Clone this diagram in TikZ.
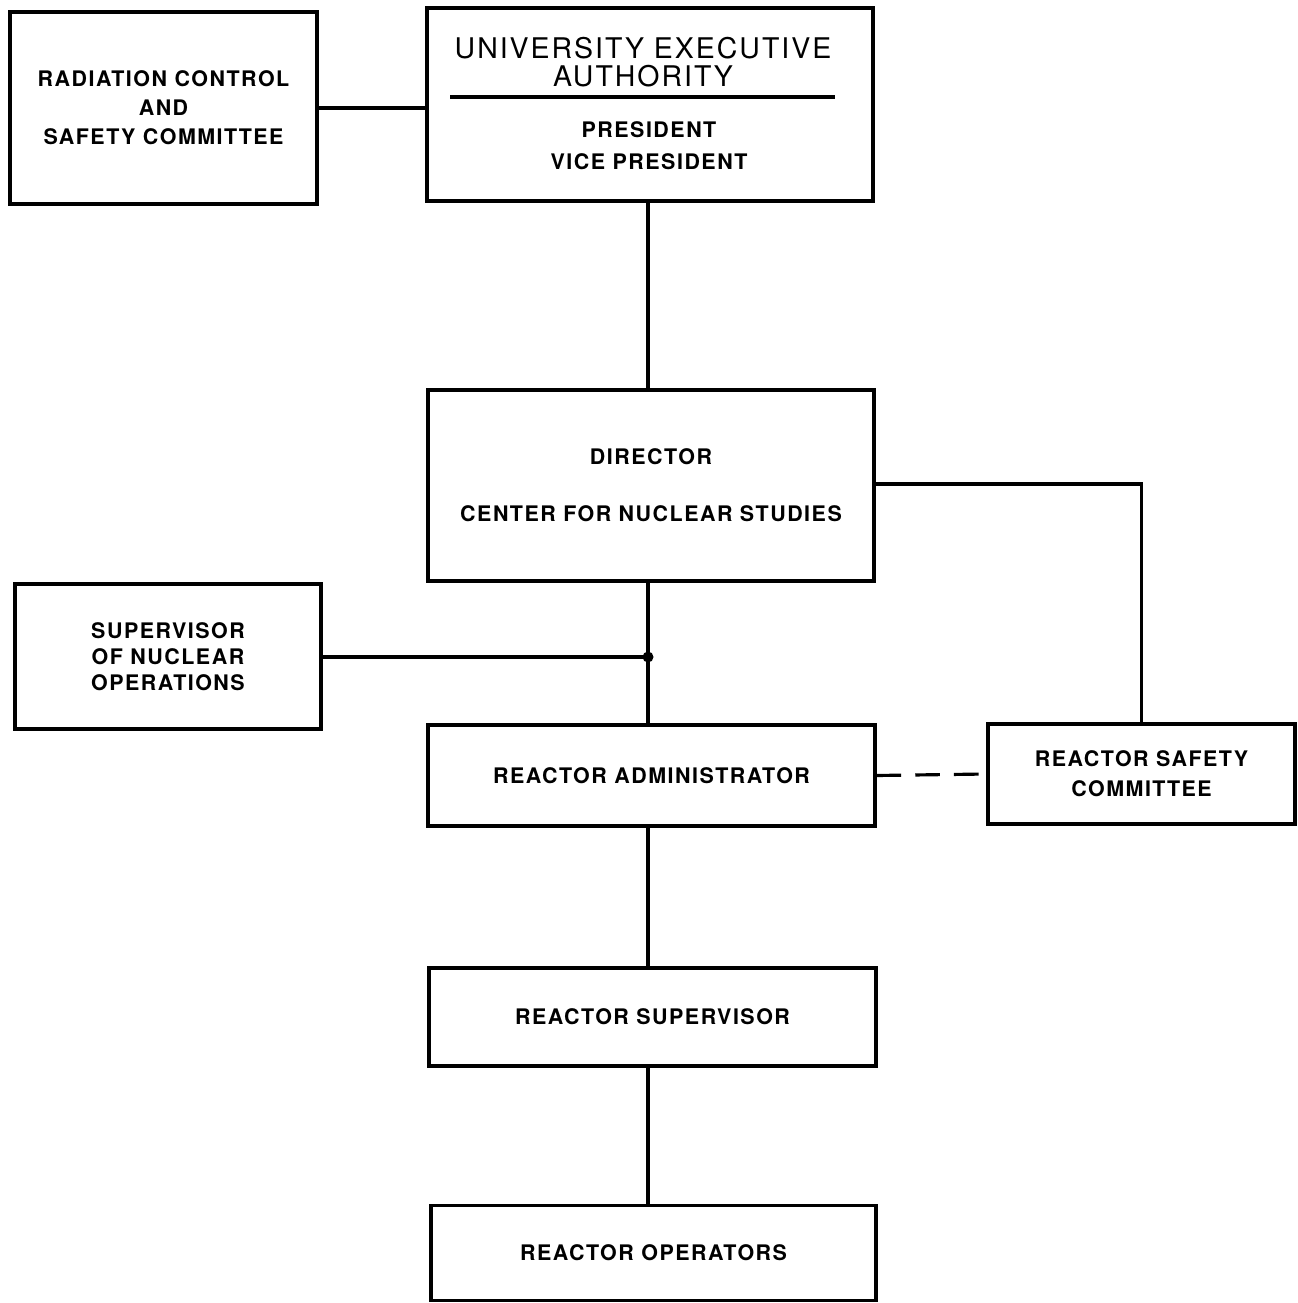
\documentclass[tikz,border=0pt]{standalone}
\usepackage{fontspec}
\setmainfont{TeX Gyre Heros}[LetterSpace=7]
\usepackage{tikz}
\usetikzlibrary{positioning}

\begin{document}
\begin{tikzpicture}
\useasboundingbox (0,0) rectangle (12.97,-13.03);
\begin{scope}[every node/.style={draw, line width=0.9pt, inner sep=0pt, align=center, font=\bfseries\fontsize{6.1}{8.3}\selectfont}]
\node[minimum width=3.07cm, minimum height=1.92cm] (RCSC) at (1.635,-1.08) {RADIATION CONTROL\\AND\\SAFETY COMMITTEE};
\node[minimum width=4.46cm, minimum height=1.93cm] (UEA) at (6.50,-1.045) {};
\node[minimum width=4.46cm, minimum height=1.91cm] (DIR) at (6.51,-4.855) {DIRECTOR\\[8pt]CENTER FOR NUCLEAR STUDIES};
\node[minimum width=3.06cm, minimum height=1.45cm] (SNO) at (1.68,-6.565) {SUPERVISOR\\[-0.9pt]OF NUCLEAR\\[-0.9pt]OPERATIONS};
\node[minimum width=4.47cm, minimum height=1.01cm] (RADM) at (6.515,-7.755) {REACTOR ADMINISTRATOR};
\node[minimum width=3.07cm, minimum height=1.00cm] (RSC) at (11.415,-7.74) {REACTOR SAFETY\\[0.2pt]COMMITTEE};
\node[minimum width=4.47cm, minimum height=0.98cm] (RSUP) at (6.525,-10.17) {REACTOR SUPERVISOR};
\node[minimum width=4.45cm, minimum height=0.95cm] (ROPS) at (6.535,-12.53) {REACTOR OPERATORS};
\end{scope}
\begin{scope}[every node/.style={inner sep=0pt, align=center}]
\node[font=\fontsize{8.1}{8}\selectfont] (UEA-title) at (6.43,-0.62) {UNIVERSITY EXECUTIVE\\AUTHORITY};
\node[font=\bfseries\fontsize{6.1}{8.3}\selectfont] (UEA-off) at (6.49,-1.46) {PRESIDENT\\[0.8pt]VICE PRESIDENT};
\end{scope}
\coordinate (rule-l) at (4.50,-0.97);
\coordinate (rule-r) at (8.35,-0.97);
\coordinate (J) at (6.48,-6.57);
\draw[line width=0.9pt] (rule-l) -- (rule-r);
\begin{scope}[line width=0.9pt, every edge/.style={draw=black, line width=0.9pt}]
\path [-] (RCSC.east) edge (RCSC.east -| UEA.west);
\path [-] (UEA.south -| J) edge (DIR.north -| J);
\path [-] (DIR.south -| J) edge (RADM.north -| J);
\path [-] (J -| SNO.east) edge (J);
\draw (DIR.east |- 0,-4.84) -| (RSC.north);
\path [-] (RADM.east) edge[dashed, dash pattern=on 7pt off 4pt] (RSC.west);
\path [-] (RADM.south -| J) edge (RSUP.north -| J);
\path [-] (RSUP.south -| J) edge (ROPS.north -| J);
\fill (J) circle (0.055);
\end{scope}
\end{tikzpicture}
\end{document}
